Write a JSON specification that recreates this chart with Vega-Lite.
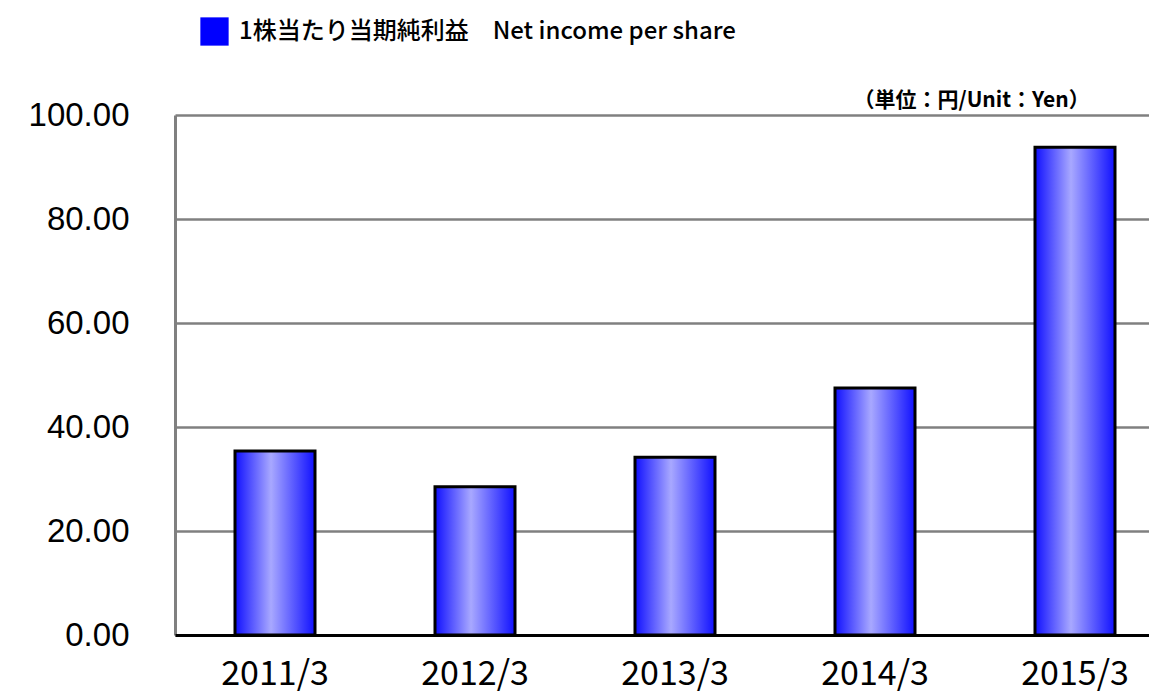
{
  "$schema": "https://vega.github.io/schema/vega-lite/v6.json",
  "autosize": "none",
  "width": 974,
  "height": 520,
  "padding": {"left": 175, "top": 115, "right": 0, "bottom": 60},
  "background": "white",
  "config": {"view": {"stroke": null}},
  "data": {
    "values": [
      {"period": "2011/3", "value": 35.4, "series": "1株当たり当期純利益　Net income per share"},
      {"period": "2012/3", "value": 28.5, "series": "1株当たり当期純利益　Net income per share"},
      {"period": "2013/3", "value": 34.2, "series": "1株当たり当期純利益　Net income per share"},
      {"period": "2014/3", "value": 47.5, "series": "1株当たり当期純利益　Net income per share"},
      {"period": "2015/3", "value": 93.8, "series": "1株当たり当期純利益　Net income per share"}
    ]
  },
  "encoding": {
    "x": {
      "field": "period",
      "type": "nominal",
      "sort": null,
      "scale": {"range": [0, 1000], "paddingInner": 0.6, "paddingOuter": 0.3},
      "axis": {
        "title": null,
        "labelAngle": 0,
        "labelFont": "Noto Sans CJK JP",
        "labelFontSize": 34,
        "labelColor": "#000000",
        "labelPadding": 22,
        "ticks": false,
        "domainColor": "#000000",
        "domainWidth": 3,
        "grid": false,
        "zindex": 2
      }
    },
    "y": {
      "field": "value",
      "type": "quantitative",
      "scale": {"domain": [0, 100], "nice": false},
      "axis": {
        "title": "（単位：円/Unit：Yen）",
        "titleAngle": 0,
        "titleX": 678,
        "titleY": -5,
        "titleAlign": "left",
        "titleBaseline": "bottom",
        "titleFont": "Noto Sans CJK JP",
        "titleFontSize": 21,
        "titleFontWeight": "bold",
        "titleColor": "#000000",
        "values": [0, 20, 40, 60, 80, 100],
        "format": ".2f",
        "labelFont": "Liberation Sans",
        "labelFontSize": 33,
        "labelColor": "#000000",
        "labelPadding": 46,
        "ticks": false,
        "domainColor": "#808080",
        "domainWidth": 3,
        "grid": true,
        "gridColor": "#808080",
        "gridWidth": 2.5,
        "gridOpacity": 1
      }
    }
  },
  "layer": [
    {
      "mark": {
        "type": "bar",
        "stroke": "#000000",
        "strokeWidth": 3,
        "fill": {
          "gradient": "linear",
          "x1": 0, "y1": 0, "x2": 1, "y2": 0,
          "stops": [
            {"offset": 0, "color": "#1010ff"},
            {"offset": 0.45, "color": "#a8a8ff"},
            {"offset": 1, "color": "#1010ff"}
          ]
        }
      }
    },
    {
      "mark": {"type": "point", "shape": "square", "filled": true, "opacity": 0},
      "encoding": {
        "color": {
          "field": "series",
          "type": "nominal",
          "scale": {"range": ["#0000ff"]},
          "legend": {
            "title": null,
            "orient": "none",
            "legendX": 25,
            "legendY": -98,
            "symbolType": "square",
            "symbolSize": 800,
            "symbolOpacity": 1,
            "symbolStrokeWidth": 0,
            "labelFont": "Noto Sans CJK JP",
            "labelFontSize": 24,
            "labelFontWeight": 500,
            "labelColor": "#000000",
            "labelOffset": 10,
            "labelLimit": 0
          }
        }
      }
    }
  ]
}
